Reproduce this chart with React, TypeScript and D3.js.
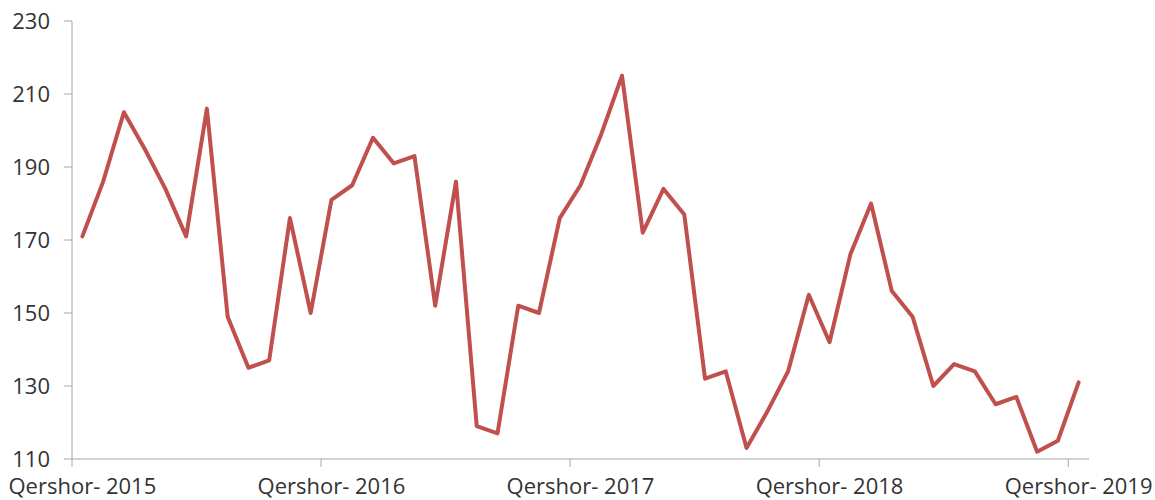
import React from "react";
import * as d3 from "d3";

const months: string[] = [
  "Qershor- 2015","Korrik- 2015","Gusht- 2015","Shtator- 2015","Tetor- 2015","Nëntor- 2015","Dhjetor- 2015",
  "Janar- 2016","Shkurt- 2016","Mars- 2016","Prill- 2016","Maj- 2016",
  "Qershor- 2016","Korrik- 2016","Gusht- 2016","Shtator- 2016","Tetor- 2016","Nëntor- 2016","Dhjetor- 2016",
  "Janar- 2017","Shkurt- 2017","Mars- 2017","Prill- 2017","Maj- 2017",
  "Qershor- 2017","Korrik- 2017","Gusht- 2017","Shtator- 2017","Tetor- 2017","Nëntor- 2017","Dhjetor- 2017",
  "Janar- 2018","Shkurt- 2018","Mars- 2018","Prill- 2018","Maj- 2018",
  "Qershor- 2018","Korrik- 2018","Gusht- 2018","Shtator- 2018","Tetor- 2018","Nëntor- 2018","Dhjetor- 2018",
  "Janar- 2019","Shkurt- 2019","Mars- 2019","Prill- 2019","Maj- 2019",
  "Qershor- 2019",
];

const values: number[] = [
  171, 186, 205, 195, 184, 171, 206, 149, 135, 137, 176, 150,
  181, 185, 198, 191, 193, 152, 186, 119, 117, 152, 150, 176,
  185, 199, 215, 172, 184, 177, 132, 134, 113, 123, 134, 155,
  142, 166, 180, 156, 149, 130, 136, 134, 125, 127, 112, 115,
  131,
];

const yTicks: number[] = [110, 130, 150, 170, 190, 210, 230];
const labelEvery = 12;

const W = 1155;
const H = 500;
const M = { left: 72, right: 66, top: 21, bottom: 41 };
const FONT = "'Open Sans', sans-serif";
const TEXT = "#333333";
const AXIS = "#a6a6a6";
const LINE = "#c0504d";

export default function App() {
  const x = d3
    .scaleBand<string>()
    .domain(months)
    .range([M.left, W - M.right])
    .paddingInner(0)
    .paddingOuter(0);
  const y = d3.scaleLinear().domain([110, 230]).range([H - M.bottom, M.top]);
  const cx = (m: string) => (x(m) as number) + x.bandwidth() / 2;

  const line = d3
    .line<number>()
    .x((_, i) => cx(months[i]))
    .y((d) => y(d));

  const tickIdx = months.map((_, i) => i).filter((i) => i % labelEvery === 0);

  return (
    <svg width={W} height={H} style={{ position: "absolute", left: 0, top: 0 }}>
      <rect width={W} height={H} fill="#ffffff" />
      {/* y axis */}
      <line x1={M.left} x2={M.left} y1={y(230)} y2={y(110)} stroke={AXIS} strokeWidth={1} />
      {yTicks.map((t) => (
        <g key={t}>
          <line x1={M.left - 8} x2={M.left} y1={y(t)} y2={y(t)} stroke={AXIS} strokeWidth={1} />
          <text
            x={M.left - 22}
            y={y(t) + 8}
            textAnchor="end"
            fontFamily={FONT}
            fontSize={22}
            fill={TEXT}
          >
            {t}
          </text>
        </g>
      ))}
      {/* x axis */}
      <line x1={M.left} x2={W - M.right} y1={y(110)} y2={y(110)} stroke={AXIS} strokeWidth={1} />
      {tickIdx.map((i) => (
        <g key={i}>
          <line
            x1={x(months[i]) as number}
            x2={x(months[i]) as number}
            y1={y(110)}
            y2={y(110) + 8}
            stroke={AXIS}
            strokeWidth={1}
          />
          <text
            x={cx(months[i])}
            y={H - 6}
            textAnchor="middle"
            fontFamily={FONT}
            fontSize={22}
            fill={TEXT}
          >
            {months[i]}
          </text>
        </g>
      ))}
      <path
        d={line(values) || ""}
        fill="none"
        stroke={LINE}
        strokeWidth={4}
        strokeLinejoin="round"
        strokeLinecap="round"
      />
    </svg>
  );
}
